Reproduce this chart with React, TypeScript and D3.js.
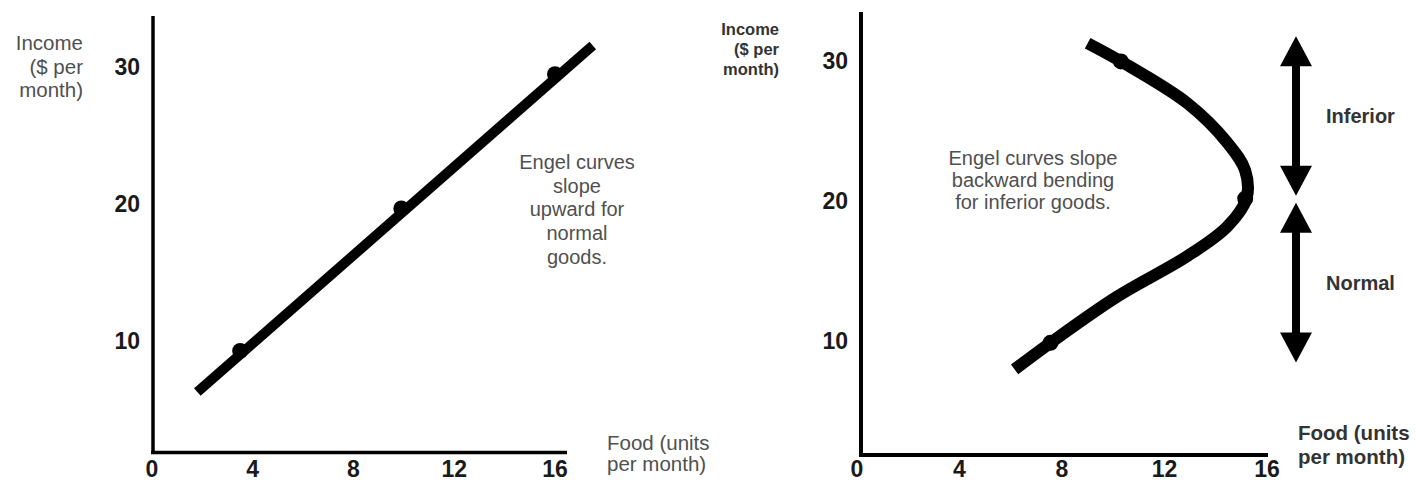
import * as d3 from 'd3';

// left panel: normal good
const normalLine = [
  { food: 1.8, income: 6.2 },
  { food: 17.5, income: 31.5 }
];
const normalDots = [
  { food: 3.5, income: 9.2 },
  { food: 9.9, income: 19.6 },
  { food: 16.0, income: 29.4 }
];

// right panel: backward bending
const inferiorCurve = [
  { food: 9.0, income: 31.2 },
  { food: 10.3, income: 29.9 },
  { food: 12.9, income: 26.9 },
  { food: 14.45, income: 24.1 },
  { food: 15.15, income: 22.1 },
  { food: 15.2, income: 20.1 },
  { food: 14.45, income: 18.1 },
  { food: 12.9, income: 16.0 },
  { food: 10.15, income: 13.1 },
  { food: 7.55, income: 9.8 },
  { food: 6.15, income: 7.9 }
];
const inferiorDots = [
  { food: 10.3, income: 29.9 },
  { food: 15.15, income: 20.1 },
  { food: 7.55, income: 9.8 }
];

const xTicks = [0, 4, 8, 12, 16];
const yTicks = [10, 20, 30];

const ranges = [
  { label: 'Inferior', from: 20.3, to: 31.7 },
  { label: 'Normal', from: 8.4, to: 19.8 }
];

const leftNote = ['Engel curves', 'slope', 'upward for', 'normal', 'goods.'];
const rightNote = ['Engel curves slope', 'backward bending', 'for inferior goods.'];

const font = 'Liberation Sans, Arial, sans-serif';

export default function App() {
  const xL = d3.scaleLinear().domain([0, 16]).range([152, 555]);
  const yL = d3.scaleLinear().domain([10, 30]).range([340, 66]);
  const xR = d3.scaleLinear().domain([0, 16]).range([857, 1267]);
  const yR = d3.scaleLinear().domain([10, 30]).range([340, 60]);

  const lineL = d3.line<any>().x(d => xL(d.food)).y(d => yL(d.income));
  const lineR = d3.line<any>().x(d => xR(d.food)).y(d => yR(d.income)).curve(d3.curveCatmullRom.alpha(0.5));

  const arrowX = 1296;
  const head = 30;
  const halfW = 16;

  return (
    <div style={{ position: 'absolute', left: 0, top: 0 }}>
      <svg width={1416} height={481} style={{ display: 'block', background: '#fff' }} fontFamily={font}>
        {/* left panel */}
        <line x1={153} y1={16} x2={153} y2={454} stroke="#000" strokeWidth={3.5} />
        <line x1={151} y1={452.5} x2={567} y2={452.5} stroke="#000" strokeWidth={3.5} />
        {xTicks.map(t => (
          <text key={'xl' + t} x={xL(t)} y={477} textAnchor="middle" fontSize={23} fontWeight="bold" fill="#1a1a1a">{t}</text>
        ))}
        {yTicks.map(t => (
          <text key={'yl' + t} x={140} y={yL(t) + 8.5} textAnchor="end" fontSize={23} fontWeight="bold" fill="#1a1a1a">{t}</text>
        ))}
        <g fontSize={20.5} fill="#505050" textAnchor="end">
          <text x={83} y={50}>Income</text>
          <text x={83} y={74}>($ per</text>
          <text x={83} y={97}>month)</text>
        </g>
        <g fontSize={20.5} fill="#505050">
          <text x={607} y={450}>Food (units</text>
          <text x={607} y={471}>per month)</text>
        </g>
        <g fontSize={20} fill="#505050" textAnchor="middle">
          {leftNote.map((s, i) => (
            <text key={s} x={577} y={169 + i * 23.7}>{s}</text>
          ))}
        </g>
        <path d={lineL(normalLine) || ''} fill="none" stroke="#000" strokeWidth={10} />
        {normalDots.map((d, i) => (
          <circle key={'nd' + i} cx={xL(d.food)} cy={yL(d.income)} r={8} fill="#000" />
        ))}

        {/* right panel */}
        <line x1={861} y1={12} x2={861} y2={457} stroke="#000" strokeWidth={4} />
        <line x1={859} y1={455} x2={1268} y2={455} stroke="#000" strokeWidth={4} />
        {xTicks.map(t => (
          <text key={'xr' + t} x={xR(t)} y={477} textAnchor="middle" fontSize={23} fontWeight="bold" fill="#1a1a1a">{t}</text>
        ))}
        {yTicks.map(t => (
          <text key={'yr' + t} x={848} y={yR(t) + 8.5} textAnchor="end" fontSize={23} fontWeight="bold" fill="#1a1a1a">{t}</text>
        ))}
        <g fontSize={16.5} fontWeight="bold" fill="#333" textAnchor="end">
          <text x={779} y={35}>Income</text>
          <text x={779} y={55}>($ per</text>
          <text x={779} y={75}>month)</text>
        </g>
        <g fontSize={20.5} fontWeight="bold" fill="#333">
          <text x={1298} y={440}>Food (units</text>
          <text x={1298} y={464}>per month)</text>
        </g>
        <g fontSize={20} fill="#505050" textAnchor="middle">
          {rightNote.map((s, i) => (
            <text key={s} x={1033} y={165 + i * 22}>{s}</text>
          ))}
        </g>
        <path d={lineR(inferiorCurve) || ''} fill="none" stroke="#000" strokeWidth={12} />
        {inferiorDots.map((d, i) => (
          <circle key={'id' + i} cx={xR(d.food)} cy={yR(d.income)} r={8} fill="#000" />
        ))}

        {ranges.map(r => {
          const top = yR(r.to);
          const bot = yR(r.from);
          const mid = (top + bot) / 2;
          return (
            <g key={r.label}>
              <line x1={arrowX} y1={top + head - 2} x2={arrowX} y2={bot - head + 2} stroke="#000" strokeWidth={8} />
              <path d={`M${arrowX},${top} L${arrowX + halfW},${top + head} L${arrowX - halfW},${top + head} Z`} fill="#000" />
              <path d={`M${arrowX},${bot} L${arrowX + halfW},${bot - head} L${arrowX - halfW},${bot - head} Z`} fill="#000" />
              <text x={1326} y={mid + 7} fontSize={20} fontWeight="bold" fill="#333">{r.label}</text>
            </g>
          );
        })}
      </svg>
    </div>
  );
}
